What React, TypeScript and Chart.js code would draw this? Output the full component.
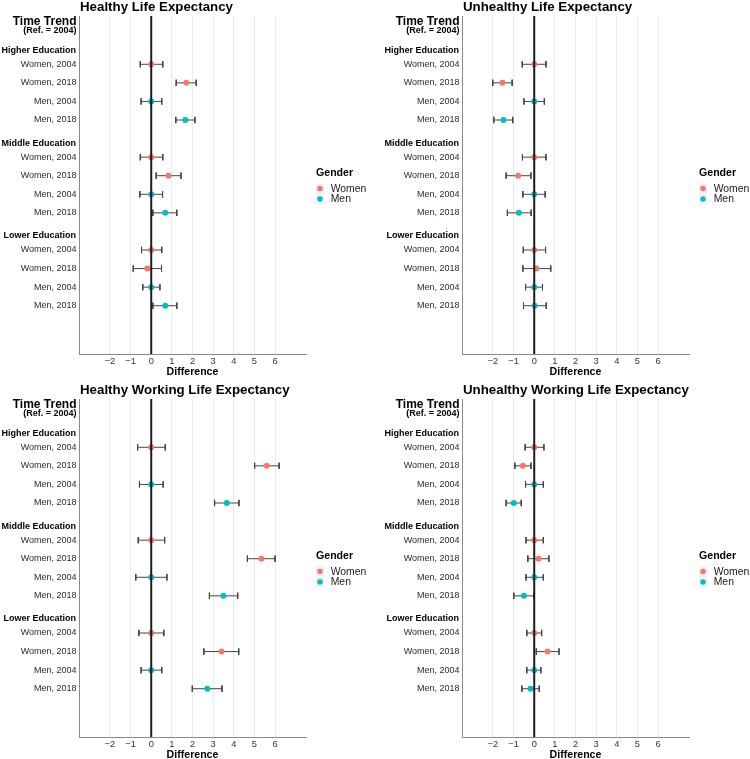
import React, { useEffect, useRef } from 'react';
import { Chart, registerables } from 'chart.js';

Chart.register(...registerables);

const FONT = "'Liberation Sans', Arial, Helvetica, sans-serif";

// ---- categories / ticks ----
const groupNames = ['Higher Education', 'Middle Education', 'Lower Education'];
const rowLabels = ['Women, 2004', 'Women, 2018', 'Men, 2004', 'Men, 2018'];
const rowGender = ['Women', 'Women', 'Men', 'Men'];
const genders = ['Women', 'Men'];
const genderColors = ['#F8766D', '#00BFC4'];
const xTicks = [-2, -1, 0, 1, 2, 3, 4, 5, 6];

// ---- series values (row order: Higher W04, W18, M04, M18, Middle ..., Lower ...) ----
const hleEst = [0, 1.7, 0, 1.65, 0, 0.84, 0, 0.68, 0, -0.19, 0, 0.68];
const hleLo = [-0.53, 1.21, -0.49, 1.19, -0.53, 0.24, -0.55, 0.08, -0.47, -0.87, -0.41, 0.08];
const hleHi = [0.56, 2.18, 0.51, 2.12, 0.56, 1.44, 0.55, 1.24, 0.51, 0.5, 0.42, 1.24];

const uleEst = [0, -1.54, 0, -1.49, 0, -0.78, 0, -0.74, 0, 0.1, 0, 0.02];
const uleLo = [-0.58, -2.01, -0.5, -1.96, -0.57, -1.36, -0.55, -1.3, -0.53, -0.55, -0.42, -0.52];
const uleHi = [0.57, -1.07, 0.49, -1.04, 0.57, -0.16, 0.53, -0.15, 0.55, 0.8, 0.4, 0.58];

const hwleEst = [0, 5.6, 0, 3.66, 0, 5.34, 0, 3.5, 0, 3.41, 0, 2.72];
const hwleLo = [-0.66, 5.01, -0.57, 3.07, -0.63, 4.66, -0.75, 2.82, -0.6, 2.55, -0.49, 1.99];
const hwleHi = [0.68, 6.2, 0.58, 4.25, 0.65, 6.0, 0.76, 4.19, 0.61, 4.24, 0.51, 3.43];

const uwleEst = [0, -0.55, 0, -0.99, 0, 0.21, 0, -0.5, 0, 0.65, 0, -0.18];
const uwleLo = [-0.44, -0.94, -0.42, -1.36, -0.4, -0.31, -0.4, -0.99, -0.36, 0.1, -0.36, -0.6];
const uwleHi = [0.47, -0.16, 0.44, -0.63, 0.44, 0.71, 0.44, -0.01, 0.36, 1.2, 0.32, 0.24];

// discrete y positions: 0 = "Time Trend", group header, 4 rows, ... then 2 blank slots
const rowPos: number[] = [];
groupNames.forEach((_, g) => rowLabels.forEach((_, k) => rowPos.push(2 + g * 5 + k)));
const headerPos = groupNames.map((_, g) => 1 + g * 5);
const Y_MIN = -0.6;
const Y_MAX = 17.6;
const X_MIN = -3.5;
const X_MAX = 7.5;
const CAP = 0.17;

type Panel = {
  title: string;
  est: number[];
  lo: number[];
  hi: number[];
  left: number;
  top: number;
  yWidth: number;
};

const PLOT_W = 227;
const CANVAS_W = 375;
const CANVAS_H = 380;

const panels: Panel[] = [
  { title: 'Healthy Life Expectancy', est: hleEst, lo: hleLo, hi: hleHi, left: 0, top: 0, yWidth: 79 },
  { title: 'Unhealthy Life Expectancy', est: uleEst, lo: uleLo, hi: uleHi, left: 375, top: 0, yWidth: 87 },
  { title: 'Healthy Working Life Expectancy', est: hwleEst, lo: hwleLo, hi: hwleHi, left: 0, top: 383, yWidth: 79 },
  { title: 'Unhealthy Working Life Expectancy', est: uwleEst, lo: uwleLo, hi: uwleHi, left: 375, top: 383, yWidth: 87 },
];

const GAP = { x: NaN, y: NaN };

function errorSegments(lo: number[], hi: number[]) {
  const pts: { x: number; y: number }[] = [];
  rowPos.forEach((r, i) => {
    pts.push({ x: lo[i], y: r }, { x: hi[i], y: r }, GAP);
    pts.push({ x: lo[i], y: r - CAP }, { x: lo[i], y: r + CAP }, GAP);
    pts.push({ x: hi[i], y: r - CAP }, { x: hi[i], y: r + CAP }, GAP);
  });
  return pts;
}

function makeDecor(p: Panel) {
  return {
    id: 'decor',
    afterDatasetsDraw(chart: any) {
      const { ctx, chartArea, scales } = chart;
      const x0 = scales.x.getPixelForValue(0);
      ctx.save();
      ctx.strokeStyle = '#1c1c1c';
      ctx.lineWidth = 2;
      ctx.beginPath();
      ctx.moveTo(x0, chartArea.top);
      ctx.lineTo(x0, chartArea.bottom);
      ctx.stroke();
      ctx.restore();
    },
    afterDraw(chart: any) {
      const { ctx, chartArea, scales } = chart;
      const y = scales.y;
      ctx.save();
      // title
      ctx.fillStyle = '#000';
      ctx.textBaseline = 'middle';
      ctx.textAlign = 'left';
      ctx.font = `bold 13.3px ${FONT}`;
      ctx.fillText(p.title, chartArea.left + 1, 7.5);
      // y headers
      const rx = chartArea.left - 2.5;
      ctx.textAlign = 'right';
      const y0 = y.getPixelForValue(0);
      ctx.font = `bold 12px ${FONT}`;
      ctx.fillText('Time Trend', rx, y0 - 5.5);
      ctx.font = `bold 9px ${FONT}`;
      ctx.fillText('(Ref. = 2004)', rx, y0 + 3.5);
      headerPos.forEach((hp, g) => {
        ctx.fillText(groupNames[g], rx - 0.5, y.getPixelForValue(hp) + 4.5);
      });
      // legend
      const lx = chartArea.right + 10;
      const mid = (chartArea.top + chartArea.bottom) / 2;
      ctx.textAlign = 'left';
      ctx.font = `bold 10.6px ${FONT}`;
      ctx.fillText('Gender', lx, mid - 12);
      const keyY = [mid + 3.5, mid + 14];
      genders.forEach((g, i) => {
        const ds = chart.data.datasets[i];
        ctx.fillStyle = '#EFEFEF';
        ctx.fillRect(lx, keyY[i] - 5, 8, 10);
        ctx.fillStyle = ds.backgroundColor;
        ctx.beginPath();
        ctx.arc(lx + 4, keyY[i], 2.7, 0, Math.PI * 2);
        ctx.fill();
        ctx.fillStyle = '#1a1a1a';
        ctx.font = `10.4px ${FONT}`;
        ctx.fillText(ds.label, lx + 14.7, keyY[i] + 0.5);
      });
      ctx.restore();
    },
  };
}

function PanelChart({ p }: { p: Panel }) {
  const ref = useRef<HTMLCanvasElement | null>(null);
  useEffect(() => {
    if (!ref.current) return;
    const pointSets = genders.map((g, gi) => ({
      type: 'scatter' as const,
      label: g,
      data: rowPos
        .map((r, i) => ({ x: p.est[i], y: r, g: rowGender[i % 4] }))
        .filter((d) => d.g === g)
        .map((d) => ({ x: d.x, y: d.y })),
      backgroundColor: genderColors[gi],
      borderColor: genderColors[gi],
      borderWidth: 0,
      pointRadius: 3,
      showLine: false,
    }));
    const errSet = {
      type: 'scatter' as const,
      label: 'CI',
      data: errorSegments(p.lo, p.hi),
      showLine: true,
      spanGaps: false,
      borderColor: '#454545',
      borderWidth: 1,
      pointRadius: 0,
      backgroundColor: 'transparent',
    };
    const rightPad = CANVAS_W - p.yWidth - PLOT_W;
    const chart = new Chart(ref.current, {
      type: 'scatter',
      data: { datasets: [...pointSets, errSet] as any },
      options: {
        responsive: false,
        animation: false,
        events: [],
        layout: { padding: { left: 0, right: rightPad, top: 16, bottom: 0 } },
        plugins: {
          legend: { display: false },
          tooltip: { enabled: false },
          title: { display: false },
        },
        scales: {
          x: {
            type: 'linear',
            min: X_MIN,
            max: X_MAX,
            afterBuildTicks: (s: any) => {
              s.ticks = xTicks.map((v) => ({ value: v }));
            },
            afterFit: (s: any) => {
              s.height = CANVAS_H - 354;
            },
            ticks: {
              autoSkip: false,
              maxRotation: 0,
              padding: 2,
              color: '#333333',
              font: { family: FONT, size: 9.3 },
              callback: (v: any) => (Number(v) < 0 ? '\u2212' + Math.abs(Number(v)) : String(v)),
            },
            grid: { color: '#EBEBEB', lineWidth: 1, drawTicks: false },
            border: { display: true, color: '#8a8a8a', width: 1 },
            title: {
              display: true,
              text: 'Difference',
              color: '#000',
              font: { family: FONT, size: 10.6, weight: 'bold' },
              padding: { top: 0, bottom: 2 },
            },
          },
          y: {
            type: 'linear',
            min: Y_MIN,
            max: Y_MAX,
            reverse: true,
            afterBuildTicks: (s: any) => {
              s.ticks = rowPos.map((v) => ({ value: v }));
            },
            afterFit: (s: any) => {
              s.width = p.yWidth;
            },
            ticks: {
              autoSkip: false,
              padding: 2.5,
              color: '#2b2b2b',
              font: { family: FONT, size: 9 },
              callback: (v: any) => rowLabels[(Number(v) - 2) % 5],
            },
            grid: { display: false, drawTicks: false },
            border: { display: true, color: '#8a8a8a', width: 1 },
          },
        },
      } as any,
      plugins: [makeDecor(p)],
    });
    return () => chart.destroy();
  }, [p]);
  return (
    <canvas
      ref={ref}
      width={CANVAS_W}
      height={CANVAS_H}
      style={{ position: 'absolute', left: p.left, top: p.top, width: CANVAS_W, height: CANVAS_H }}
    />
  );
}

export default function App() {
  return (
    <div
      style={{
        position: 'absolute',
        left: 0,
        top: 0,
        width: 750,
        height: 759,
        overflow: 'hidden',
        background: '#fff',
      }}
    >
      {panels.map((p) => (
        <PanelChart key={p.title} p={p} />
      ))}
    </div>
  );
}
